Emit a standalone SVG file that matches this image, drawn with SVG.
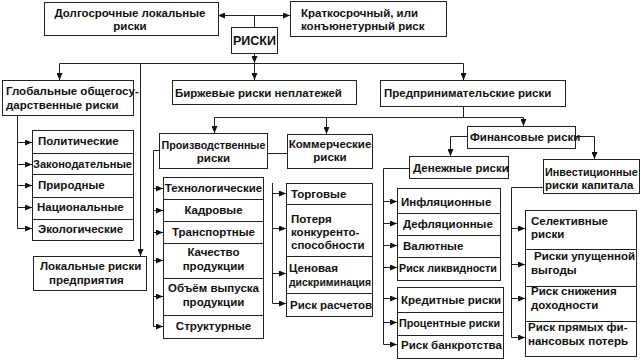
<svg xmlns="http://www.w3.org/2000/svg" width="642" height="362" viewBox="0 0 642 362">
<defs>
<marker id="ar" markerUnits="userSpaceOnUse" markerWidth="7" markerHeight="6" refX="7" refY="3" orient="auto">
<path d="M0,0 L7,3 L0,6 z" fill="#111"/>
</marker>
<style>
.b{fill:#fff;stroke:#222;stroke-width:1}
.t{font-family:"Liberation Sans",Arial,sans-serif;font-size:11.5px;font-weight:bold;fill:#111}
.m{text-anchor:middle}
.l{fill:none;stroke:#222;stroke-width:1}
.a{fill:none;stroke:#222;stroke-width:1;marker-end:url(#ar)}
</style>
</defs>
<rect width="642" height="362" fill="#fff"/>
<g id="connectors">
<path class="l" d="M254.5,15.5 V27"/>
<path class="a" d="M254.5,15.5 H218"/>
<path class="a" d="M254.5,15.5 H290"/>
<path class="a" d="M254.5,53 V63"/>
<path class="a" d="M254.5,63 V80"/>
<path class="a" d="M254.5,63.5 H59.5 V80"/>
<path class="a" d="M254.5,63.5 H463.5 V80"/>
<path class="a" d="M140.5,63.5 V256"/>
<path class="l" d="M17.5,115 V228.5"/>
<path class="a" d="M17.5,142.5 H32"/>
<path class="a" d="M17.5,164.5 H32"/>
<path class="a" d="M17.5,185.5 H32"/>
<path class="a" d="M17.5,207.5 H32"/>
<path class="a" d="M17.5,228.5 H32"/>
<path class="l" d="M463.5,106 V117.5"/>
<path class="l" d="M214.5,117.5 H523.5"/>
<path class="a" d="M214.5,117.5 V133"/>
<path class="a" d="M326.5,117.5 V134"/>
<path class="a" d="M523.5,117.5 V126"/>
<path class="l" d="M267,153.5 H287"/>
<path class="l" d="M159,150.5 H153.5 V326.5"/>
<path class="a" d="M153.5,188.5 H163"/>
<path class="a" d="M153.5,210.5 H163"/>
<path class="a" d="M153.5,232.5 H163"/>
<path class="a" d="M153.5,260.5 H163"/>
<path class="a" d="M153.5,296.5 H163"/>
<path class="a" d="M153.5,326.5 H163"/>
<path class="l" d="M272.5,183 V303.5"/>
<path class="a" d="M272.5,193.5 H286"/>
<path class="a" d="M272.5,228.5 H286"/>
<path class="a" d="M272.5,273.5 H286"/>
<path class="a" d="M272.5,303.5 H286"/>
<path class="a" d="M467,136.5 H450.5 V156"/>
<path class="a" d="M575,136.5 H594.5 V159"/>
<path class="l" d="M409,168.5 H383.5 V344.5"/>
<path class="a" d="M383.5,201.5 H397"/>
<path class="a" d="M383.5,223.5 H397"/>
<path class="a" d="M383.5,245.5 H397"/>
<path class="a" d="M383.5,267.5 H397"/>
<path class="a" d="M383.5,298.5 H397"/>
<path class="a" d="M383.5,322.5 H397"/>
<path class="a" d="M383.5,344.5 H397"/>
<path class="l" d="M543,187.5 H511.5 V337.5"/>
<path class="a" d="M511.5,228.5 H525"/>
<path class="a" d="M511.5,264.5 H525"/>
<path class="a" d="M511.5,298.5 H525"/>
<path class="a" d="M511.5,337.5 H525"/>
</g>
<g id="n-dolgo"><rect class="b" x="44.5" y="2.5" width="174" height="33"/><text class="t m" x="130" y="17">Долгосрочные локальные</text><text class="t m" x="130" y="30">риски</text></g>
<g id="n-kratko"><rect class="b" x="290.5" y="1.5" width="156" height="35"/><text class="t" x="301" y="17">Краткосрочный, или</text><text class="t" x="301" y="30">конъюнетурный риск</text></g>
<g id="n-riski"><rect class="b" x="231.5" y="27.5" width="46" height="26"/><text class="t m" x="254.5" y="45" style="font-size:12.5px">РИСКИ</text></g>
<g id="n-global"><rect class="b" x="2.5" y="80.5" width="131" height="35"/><text class="t" x="6" y="95">Глобальные общегосу-</text><text class="t" x="6" y="109">дарственные риски</text></g>
<g id="n-birzh"><rect class="b" x="172.5" y="80.5" width="184" height="24"/><text class="t" x="175" y="97">Биржевые риски неплатежей</text></g>
<g id="n-predpr"><rect class="b" x="380.5" y="80.5" width="185" height="26"/><text class="t" x="384" y="97">Предпринимательские риски</text></g>
<g id="n-polit"><rect class="b" x="32.5" y="130.5" width="101" height="23"/><text class="t" x="38" y="145">Политические</text></g>
<g id="n-zakon"><rect class="b" x="32.5" y="153.5" width="101" height="21"/><text class="t" x="33" y="168" textLength="99" lengthAdjust="spacingAndGlyphs">Законодательные</text></g>
<g id="n-prirod"><rect class="b" x="32.5" y="174.5" width="101" height="23"/><text class="t" x="38" y="189">Природные</text></g>
<g id="n-nacion"><rect class="b" x="32.5" y="197.5" width="101" height="22"/><text class="t" x="37" y="211">Национальные</text></g>
<g id="n-ekol"><rect class="b" x="32.5" y="219.5" width="101" height="21"/><text class="t" x="38" y="233">Экологические</text></g>
<g id="n-lokal"><rect class="b" x="33.5" y="256.5" width="113" height="34"/><text class="t" x="40" y="270">Локальные риски</text><text class="t" x="49" y="284">предприятия</text></g>
<g id="n-proizv"><rect class="b" x="159.5" y="133.5" width="108" height="35"/><text class="t m" x="213.5" y="149" textLength="104" lengthAdjust="spacingAndGlyphs">Производственные</text><text class="t m" x="213.5" y="162">риски</text></g>
<g id="n-kommer"><rect class="b" x="287.5" y="134.5" width="85" height="34"/><text class="t m" x="330" y="148">Коммерческие</text><text class="t m" x="330" y="161">риски</text></g>
<g id="n-tehn"><rect class="b" x="163.5" y="177.5" width="100" height="22"/><text class="t m" x="213.5" y="192">Технологические</text></g>
<g id="n-kadr"><rect class="b" x="163.5" y="199.5" width="100" height="22"/><text class="t m" x="213.5" y="214">Кадровые</text></g>
<g id="n-transp"><rect class="b" x="163.5" y="221.5" width="100" height="22"/><text class="t m" x="213.5" y="236">Транспортные</text></g>
<g id="n-kach"><rect class="b" x="163.5" y="243.5" width="100" height="35"/><text class="t m" x="213.5" y="256">Качество</text><text class="t m" x="213.5" y="270">продукции</text></g>
<g id="n-obem"><rect class="b" x="163.5" y="278.5" width="100" height="37"/><text class="t m" x="213.5" y="292">Объём выпуска</text><text class="t m" x="213.5" y="306">продукции</text></g>
<g id="n-strukt"><rect class="b" x="163.5" y="315.5" width="100" height="23"/><text class="t m" x="213.5" y="330">Структурные</text></g>
<g id="n-torg"><rect class="b" x="286.5" y="183.5" width="86" height="21"/><text class="t" x="291" y="198">Торговые</text></g>
<g id="n-poter"><rect class="b" x="286.5" y="204.5" width="86" height="52"/><text class="t" x="291" y="223">Потеря</text><text class="t" x="291" y="236">конкуренто-</text><text class="t" x="291" y="249">способности</text></g>
<g id="n-cen"><rect class="b" x="286.5" y="256.5" width="86" height="37"/><text class="t" x="289" y="272">Ценовая</text><text class="t" x="289" y="286" textLength="82" lengthAdjust="spacingAndGlyphs">дискриминация</text></g>
<g id="n-rasch"><rect class="b" x="286.5" y="293.5" width="86" height="23"/><text class="t" x="290" y="309">Риск расчетов</text></g>
<g id="n-fin"><rect class="b" x="467.5" y="126.5" width="108" height="22"/><text class="t" x="470" y="141">Финансовые риски</text></g>
<g id="n-denezh"><rect class="b" x="409.5" y="156.5" width="99" height="22"/><text class="t" x="413" y="172">Денежные риски</text></g>
<g id="n-invest"><rect class="b" x="543.5" y="159.5" width="96" height="34"/><text class="t" x="545" y="176" style="font-size:10.8px">Инвестиционные</text><text class="t" x="545" y="189">риски капитала</text></g>
<g id="n-infl"><rect class="b" x="397.5" y="188.5" width="103" height="25"/><text class="t" x="401" y="206">Инфляционные</text></g>
<g id="n-defl"><rect class="b" x="397.5" y="213.5" width="103" height="22"/><text class="t" x="403" y="228">Дефляционные</text></g>
<g id="n-val"><rect class="b" x="397.5" y="235.5" width="103" height="22"/><text class="t" x="403" y="250">Валютные</text></g>
<g id="n-likv"><rect class="b" x="397.5" y="257.5" width="103" height="23"/><text class="t" x="399" y="272" textLength="98" lengthAdjust="spacingAndGlyphs">Риск ликвидности</text></g>
<g id="n-kred"><rect class="b" x="397.5" y="287.5" width="106" height="25"/><text class="t" x="401" y="304">Кредитные риски</text></g>
<g id="n-proc"><rect class="b" x="397.5" y="312.5" width="106" height="23"/><text class="t" x="399" y="327" textLength="101" lengthAdjust="spacingAndGlyphs">Процентные риски</text></g>
<g id="n-bankr"><rect class="b" x="397.5" y="335.5" width="106" height="23"/><text class="t" x="401" y="349">Риск банкротства</text></g>
<g id="n-selekt"><rect class="b" x="525.5" y="210.5" width="111" height="39"/><text class="t" x="531" y="225">Селективные</text><text class="t" x="531" y="238">риски</text></g>
<g id="n-upusch"><rect class="b" x="525.5" y="249.5" width="111" height="37"/><text class="t" x="534" y="260">Риски упущенной</text><text class="t" x="531" y="274">выгоды</text></g>
<g id="n-snizh"><rect class="b" x="525.5" y="286.5" width="111" height="35"/><text class="t" x="531" y="295">Риск снижения</text><text class="t" x="531" y="309">доходности</text></g>
<g id="n-pryam"><rect class="b" x="525.5" y="321.5" width="111" height="35"/><text class="t" x="528" y="331">Риск прямых фи-</text><text class="t" x="528" y="345">нансовых потерь</text></g>
</svg>
